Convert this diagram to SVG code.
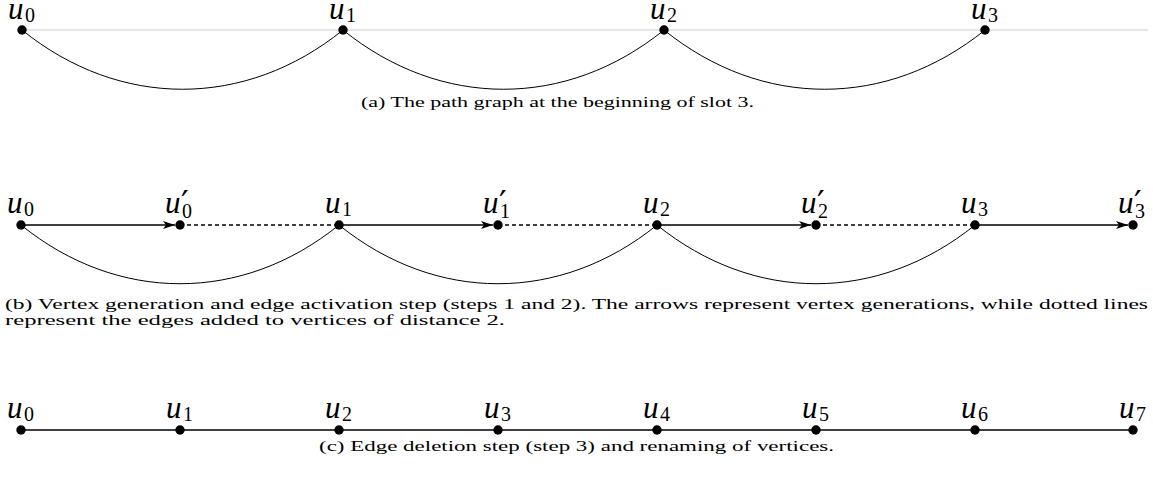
<svg xmlns="http://www.w3.org/2000/svg" width="1153" height="478" viewBox="0 0 1153 478">
<style>
.bg{fill:#fff}
.dot{fill:#000}
.lbl{font-family:"Liberation Serif",serif;font-size:31px;font-style:italic;fill:#000}
.sub{font-family:"Liberation Serif",serif;font-size:20px;font-style:normal;fill:#000}
.pr{font-family:"DejaVu Sans",sans-serif;font-size:34px;font-style:normal;fill:#000}
.cap{font-family:"Liberation Serif",serif;font-size:15.5px;fill:#000}
.curve{fill:none;stroke:#000;stroke-width:1}
.line{fill:none;stroke:#000;stroke-width:1.3}
.dash{fill:none;stroke:#000;stroke-width:1.3;stroke-dasharray:4 3}
.gray{fill:none;stroke:#cccccc;stroke-width:1.2}
</style>
<defs>
<marker id="arr" viewBox="0 0 12 8" refX="12" refY="4" markerWidth="12" markerHeight="8" markerUnits="userSpaceOnUse" orient="auto">
<path d="M0,0 L12,4 L0,8 L3,4 Z" fill="#000"/>
</marker>
</defs>
<rect class="bg" x="0" y="0" width="1153" height="478"/>

<g id="connectors">
<line class="gray" x1="22" y1="30" x2="1148" y2="30"/>
<path class="curve" d="M22,30 C119.7,109 245.3,109 343,30"/>
<path class="curve" d="M343,30 C440.7,109 566.3,109 664,30"/>
<path class="curve" d="M664,30 C761.7,109 887.3,109 985,30"/>

<line class="line" x1="21" y1="225" x2="175" y2="225" marker-end="url(#arr)"/>
<line class="line" x1="339" y1="225" x2="493" y2="225" marker-end="url(#arr)"/>
<line class="line" x1="657" y1="225" x2="811" y2="225" marker-end="url(#arr)"/>
<line class="line" x1="975" y1="225" x2="1128" y2="225" marker-end="url(#arr)"/>
<line class="dash" x1="180" y1="225" x2="339" y2="225"/>
<line class="dash" x1="498" y1="225" x2="657" y2="225"/>
<line class="dash" x1="816" y1="225" x2="975" y2="225"/>
<path class="curve" d="M21,225 C117.8,303.3 242.2,303.3 339,225"/>
<path class="curve" d="M339,225 C435.8,303.3 560.2,303.3 657,225"/>
<path class="curve" d="M657,225 C753.8,303.3 878.2,303.3 975,225"/>

<line class="line" x1="21" y1="430" x2="1133" y2="430"/>
</g>

<g id="a-u0"><circle class="dot" cx="22" cy="30" r="4.7"/><text class="lbl" x="8" y="19">u</text><text class="sub" x="25" y="22">0</text></g>
<g id="a-u1"><circle class="dot" cx="343" cy="30" r="4.7"/><text class="lbl" x="329" y="19">u</text><text class="sub" x="346" y="22">1</text></g>
<g id="a-u2"><circle class="dot" cx="664" cy="30" r="4.7"/><text class="lbl" x="650" y="19">u</text><text class="sub" x="667" y="22">2</text></g>
<g id="a-u3"><circle class="dot" cx="985" cy="30" r="4.7"/><text class="lbl" x="971" y="19">u</text><text class="sub" x="988" y="22">3</text></g>
<text class="cap" x="361" y="107" textLength="393" lengthAdjust="spacingAndGlyphs">(a) The path graph at the beginning of slot 3.</text>

<g id="b-u0"><circle class="dot" cx="21" cy="225" r="4.7"/><text class="lbl" x="7" y="213">u</text><text class="sub" x="24" y="216">0</text></g>
<g id="b-u0p"><circle class="dot" cx="180" cy="225" r="4.7"/><text class="lbl" x="165" y="213">u</text><text class="pr" x="181" y="215">′</text><text class="sub" x="182" y="218">0</text></g>
<g id="b-u1"><circle class="dot" cx="339" cy="225" r="4.7"/><text class="lbl" x="325" y="213">u</text><text class="sub" x="342" y="216">1</text></g>
<g id="b-u1p"><circle class="dot" cx="498" cy="225" r="4.7"/><text class="lbl" x="483" y="213">u</text><text class="pr" x="499" y="215">′</text><text class="sub" x="500" y="218">1</text></g>
<g id="b-u2"><circle class="dot" cx="657" cy="225" r="4.7"/><text class="lbl" x="643" y="213">u</text><text class="sub" x="660" y="216">2</text></g>
<g id="b-u2p"><circle class="dot" cx="816" cy="225" r="4.7"/><text class="lbl" x="801" y="213">u</text><text class="pr" x="817" y="215">′</text><text class="sub" x="818" y="218">2</text></g>
<g id="b-u3"><circle class="dot" cx="975" cy="225" r="4.7"/><text class="lbl" x="961" y="213">u</text><text class="sub" x="978" y="216">3</text></g>
<g id="b-u3p"><circle class="dot" cx="1133" cy="225" r="4.7"/><text class="lbl" x="1118" y="213">u</text><text class="pr" x="1134" y="215">′</text><text class="sub" x="1135" y="218">3</text></g>
<text class="cap" x="5" y="309" textLength="1143" lengthAdjust="spacingAndGlyphs">(b) Vertex generation and edge activation step (steps 1 and 2). The arrows represent vertex generations, while dotted lines</text>
<text class="cap" x="5" y="325" textLength="500" lengthAdjust="spacingAndGlyphs">represent the edges added to vertices of distance 2.</text>

<g id="c-u0"><circle class="dot" cx="21" cy="430" r="4.7"/><text class="lbl" x="7" y="418">u</text><text class="sub" x="24" y="421">0</text></g>
<g id="c-u1"><circle class="dot" cx="180" cy="430" r="4.7"/><text class="lbl" x="166" y="418">u</text><text class="sub" x="183" y="421">1</text></g>
<g id="c-u2"><circle class="dot" cx="339" cy="430" r="4.7"/><text class="lbl" x="325" y="418">u</text><text class="sub" x="342" y="421">2</text></g>
<g id="c-u3"><circle class="dot" cx="498" cy="430" r="4.7"/><text class="lbl" x="484" y="418">u</text><text class="sub" x="501" y="421">3</text></g>
<g id="c-u4"><circle class="dot" cx="657" cy="430" r="4.7"/><text class="lbl" x="643" y="418">u</text><text class="sub" x="660" y="421">4</text></g>
<g id="c-u5"><circle class="dot" cx="816" cy="430" r="4.7"/><text class="lbl" x="802" y="418">u</text><text class="sub" x="819" y="421">5</text></g>
<g id="c-u6"><circle class="dot" cx="975" cy="430" r="4.7"/><text class="lbl" x="961" y="418">u</text><text class="sub" x="978" y="421">6</text></g>
<g id="c-u7"><circle class="dot" cx="1133" cy="430" r="4.7"/><text class="lbl" x="1119" y="418">u</text><text class="sub" x="1136" y="421">7</text></g>
<text class="cap" x="319" y="451" textLength="515" lengthAdjust="spacingAndGlyphs">(c) Edge deletion step (step 3) and renaming of vertices.</text>
</svg>
